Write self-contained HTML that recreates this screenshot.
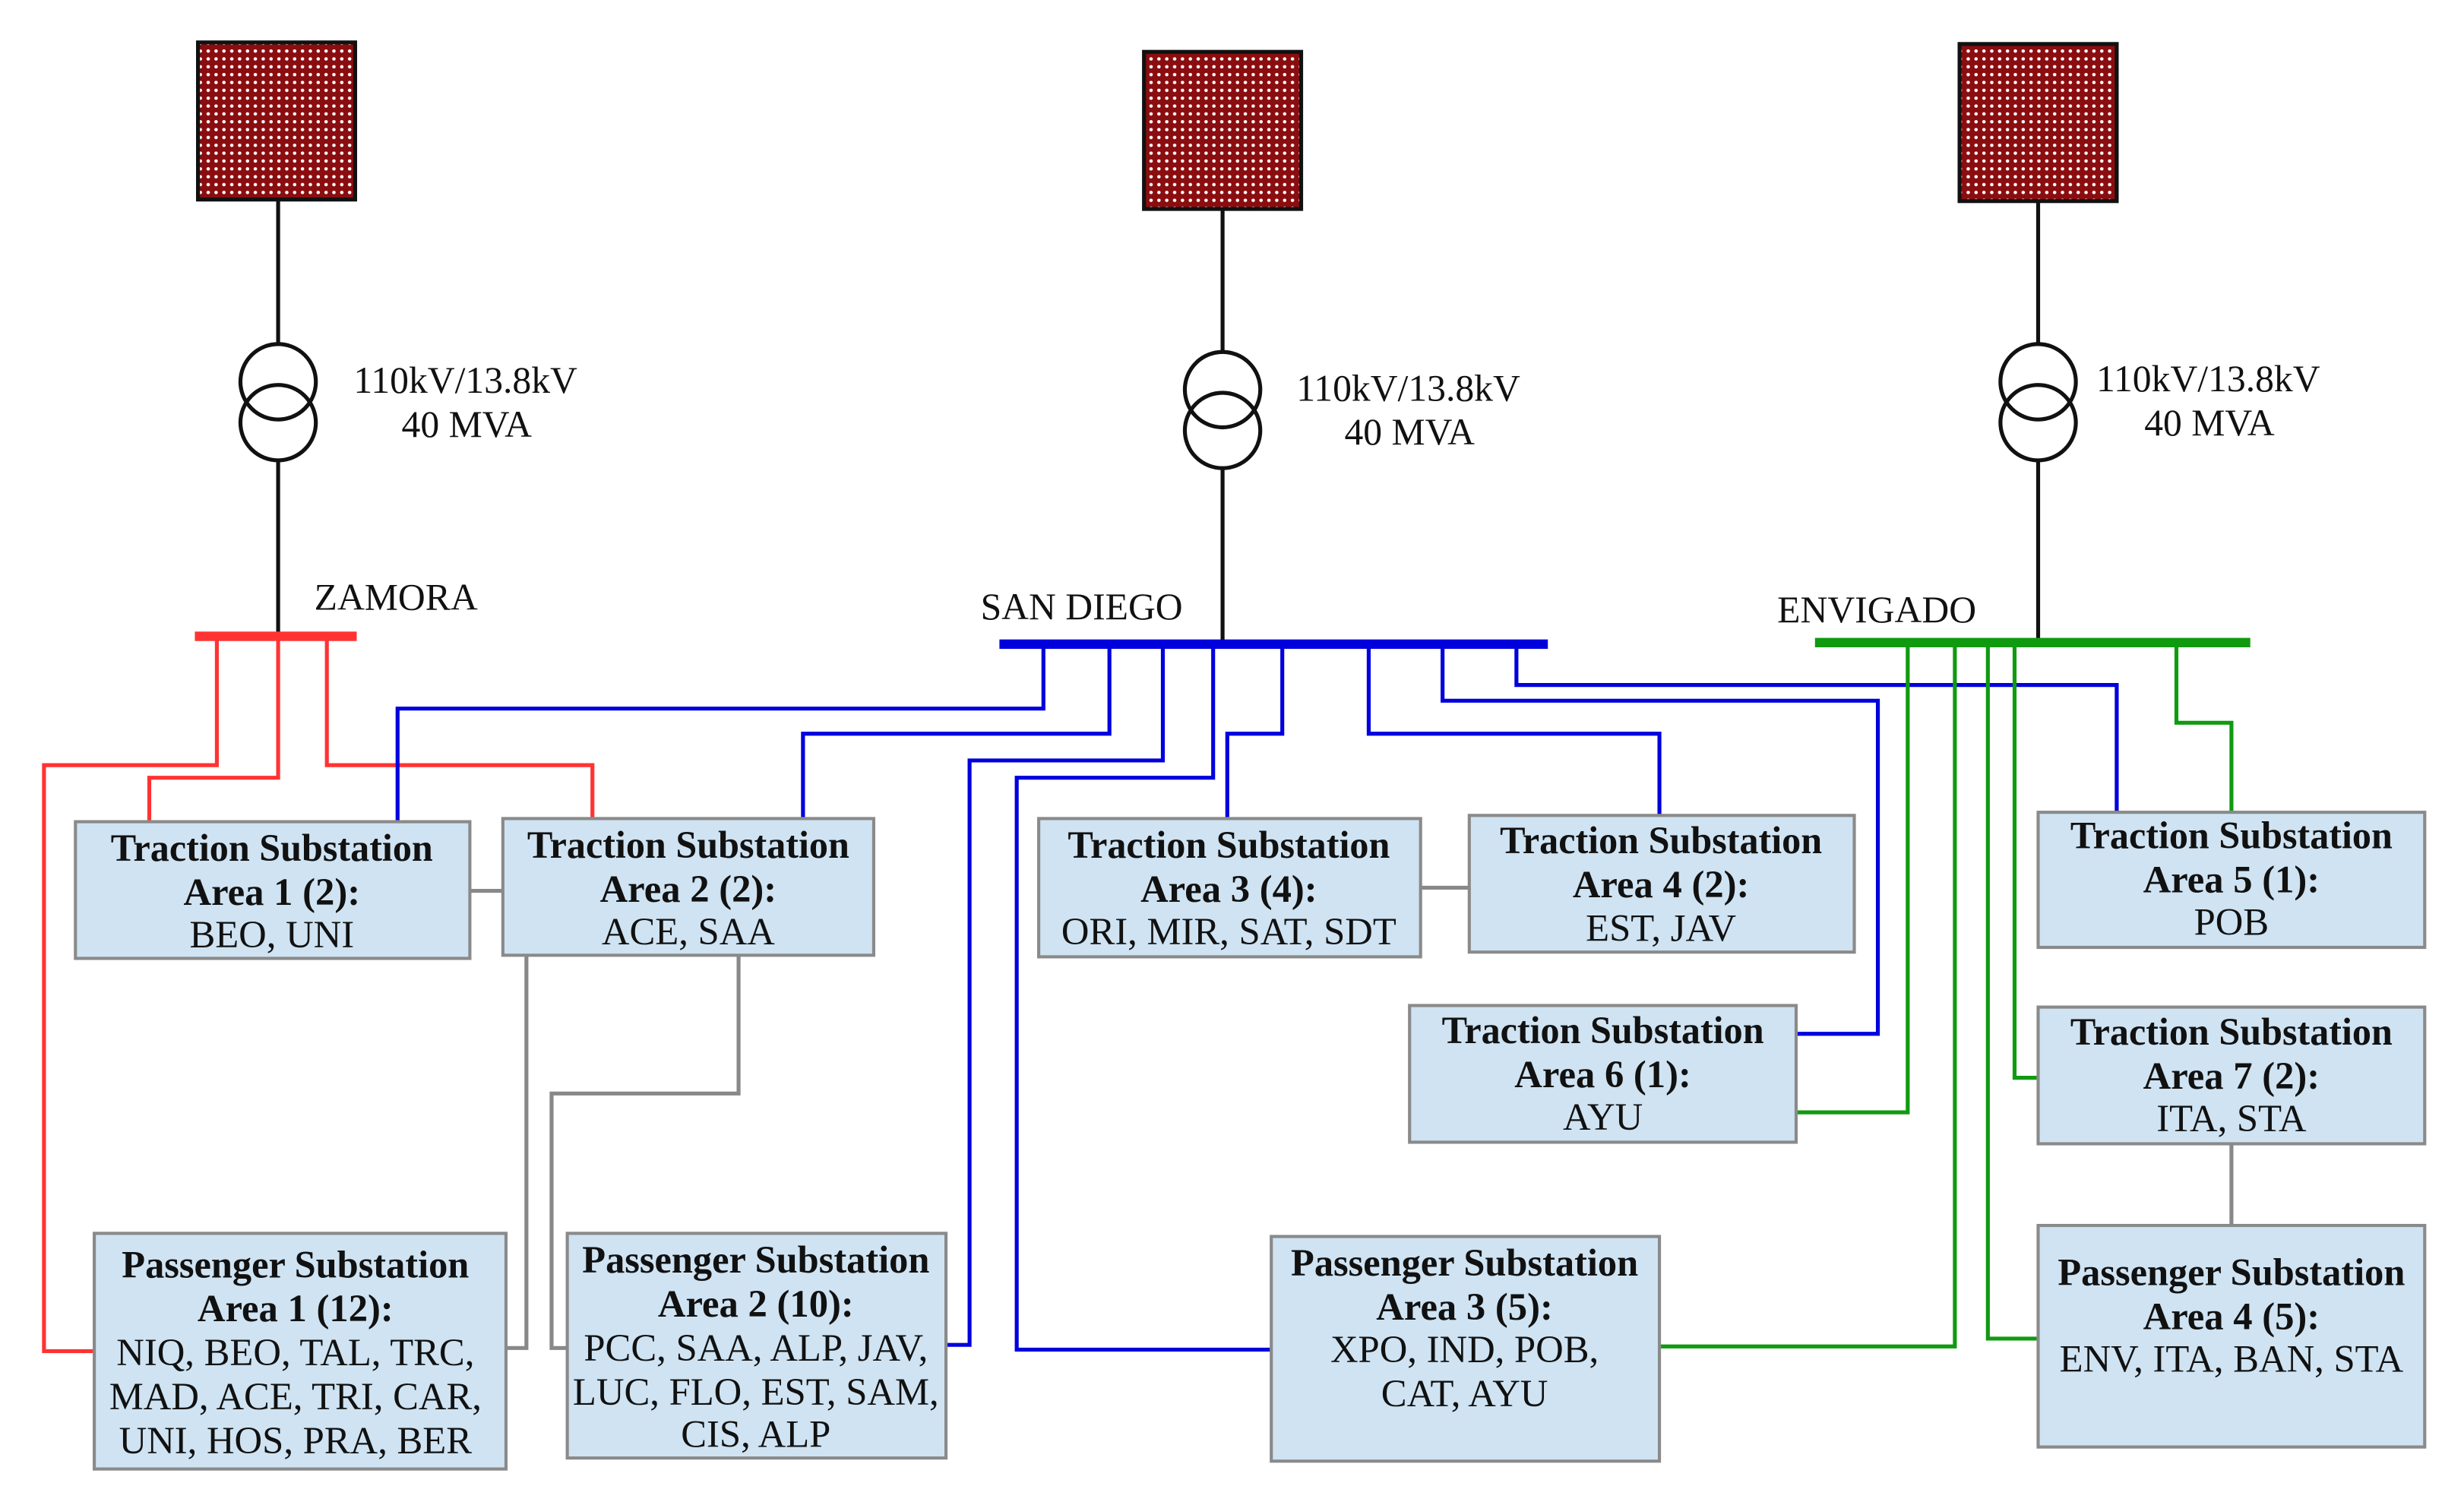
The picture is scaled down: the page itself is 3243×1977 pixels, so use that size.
<!DOCTYPE html>
<html><head><meta charset="utf-8"><style>
html,body{margin:0;padding:0;background:#fff;}
svg{display:block;}
text{font-family:"Liberation Serif",serif;fill:#111;}
.b{font-weight:bold;}
</style></head><body>
<svg width="3243" height="1977" viewBox="0 0 1568 956" preserveAspectRatio="none" xmlns="http://www.w3.org/2000/svg">
<defs>
<pattern id="dots" width="5" height="5" patternUnits="userSpaceOnUse">
<rect width="5" height="5" fill="#8a0d10"/>
<circle cx="2.5" cy="2.5" r="1.1" fill="#fff"/>
</pattern>
</defs>
<g stroke="#111" stroke-width="2.5" fill="none">
<rect x="126" y="27" width="100" height="100" fill="url(#dots)"/>
<rect x="728" y="33" width="100" height="100" fill="url(#dots)"/>
<rect x="1247" y="28" width="100" height="100" fill="url(#dots)"/>
<line x1="177" y1="127" x2="177" y2="219"/><circle cx="177" cy="243" r="24"/><circle cx="177" cy="269" r="24"/><line x1="177" y1="293" x2="177" y2="405"/>
<line x1="778" y1="133" x2="778" y2="224"/><circle cx="778" cy="248" r="24"/><circle cx="778" cy="274" r="24"/><line x1="778" y1="298" x2="778" y2="410"/>
<line x1="1297" y1="128" x2="1297" y2="219"/><circle cx="1297" cy="243" r="24"/><circle cx="1297" cy="269" r="24"/><line x1="1297" y1="293" x2="1297" y2="409"/>
</g>
<text x="225" y="250" font-size="24">110kV/13.8kV</text>
<text x="297" y="278" font-size="24" text-anchor="middle">40 MVA</text>
<text x="825" y="255" font-size="24">110kV/13.8kV</text>
<text x="897" y="283" font-size="24" text-anchor="middle">40 MVA</text>
<text x="1334" y="249" font-size="24">110kV/13.8kV</text>
<text x="1406" y="277" font-size="24" text-anchor="middle">40 MVA</text>
<text x="200" y="388" font-size="24">ZAMORA</text>
<text x="624" y="394" font-size="24">SAN DIEGO</text>
<text x="1131" y="396" font-size="24">ENVIGADO</text>

<g fill="none" stroke-width="2.5">
<g stroke="#ff3333">
<path d="M138 405V487H28V860H60"/>
<path d="M177 405V495H95V523"/>
<path d="M208 405V487H377V521"/>
</g>
<g stroke="#0000dd">
<path d="M664 410V451H253V523"/>
<path d="M706 410V467H511V521"/>
<path d="M740 410V484H617V856H602"/>
<path d="M772 410V495H647V859H810"/>
<path d="M816 410V467H781V521"/>
<path d="M871 410V467H1056V519"/>
<path d="M918 410V446H1195V658H1143"/>
<path d="M965 410V436H1347V517"/>
</g>
<g stroke="#109a10">
<path d="M1214 409V708H1143"/>
<path d="M1244 409V857H1056"/>
<path d="M1265 409V852H1297"/>
<path d="M1282 409V686H1297"/>
<path d="M1385 409V460H1420V517"/>
</g>
<g stroke="#888">
<path d="M299 567H320"/>
<path d="M904 565H935"/>
<path d="M335 608V858H322"/>
<path d="M470 608V696H351V858H362"/>
<path d="M1420 728V780"/>
</g>
</g>
<rect x="124" y="402" width="103" height="6" fill="#ff3333"/>
<rect x="636" y="407" width="349" height="6" fill="#0000dd"/>
<rect x="1155" y="406" width="277" height="6" fill="#109a10"/>

<g fill="#cfe3f2" stroke="#8a8a8a" stroke-width="2">
<rect x="48" y="523" width="251" height="87"/>
<rect x="320" y="521" width="236" height="87"/>
<rect x="661" y="521" width="243" height="88"/>
<rect x="935" y="519" width="245" height="87"/>
<rect x="1297" y="517" width="246" height="86"/>
<rect x="897" y="640" width="246" height="87"/>
<rect x="1297" y="641" width="246" height="87"/>
<rect x="60" y="785" width="262" height="150"/>
<rect x="361" y="785" width="241" height="143"/>
<rect x="809" y="787" width="247" height="143"/>
<rect x="1297" y="780" width="246" height="141"/>
</g>
<g font-size="24.5" text-anchor="middle">
<text class="b" x="173" y="548" textLength="205" lengthAdjust="spacingAndGlyphs">Traction Substation</text>
<text class="b" x="173" y="576">Area 1 (2):</text>
<text x="173" y="603">BEO, UNI</text>
<text class="b" x="438" y="546" textLength="205" lengthAdjust="spacingAndGlyphs">Traction Substation</text>
<text class="b" x="438" y="574">Area 2 (2):</text>
<text x="438" y="601">ACE, SAA</text>
<text class="b" x="782" y="546" textLength="205" lengthAdjust="spacingAndGlyphs">Traction Substation</text>
<text class="b" x="782" y="574">Area 3 (4):</text>
<text x="782" y="601">ORI, MIR, SAT, SDT</text>
<text class="b" x="1057" y="543" textLength="205" lengthAdjust="spacingAndGlyphs">Traction Substation</text>
<text class="b" x="1057" y="571">Area 4 (2):</text>
<text x="1057" y="599">EST, JAV</text>
<text class="b" x="1420" y="540" textLength="205" lengthAdjust="spacingAndGlyphs">Traction Substation</text>
<text class="b" x="1420" y="568">Area 5 (1):</text>
<text x="1420" y="595">POB</text>
<text class="b" x="1020" y="664" textLength="205" lengthAdjust="spacingAndGlyphs">Traction Substation</text>
<text class="b" x="1020" y="692">Area 6 (1):</text>
<text x="1020" y="719">AYU</text>
<text class="b" x="1420" y="665" textLength="205" lengthAdjust="spacingAndGlyphs">Traction Substation</text>
<text class="b" x="1420" y="693">Area 7 (2):</text>
<text x="1420" y="720">ITA, STA</text>
<text class="b" x="188" y="813" textLength="221" lengthAdjust="spacingAndGlyphs">Passenger Substation</text>
<text class="b" x="188" y="841">Area 1 (12):</text>
<text x="188" y="869">NIQ, BEO, TAL, TRC,</text>
<text x="188" y="897">MAD, ACE, TRI, CAR,</text>
<text x="188" y="925">UNI, HOS, PRA, BER</text>
<text class="b" x="481" y="810" textLength="221" lengthAdjust="spacingAndGlyphs">Passenger Substation</text>
<text class="b" x="481" y="838">Area 2 (10):</text>
<text x="481" y="866">PCC, SAA, ALP, JAV,</text>
<text x="481" y="894">LUC, FLO, EST, SAM,</text>
<text x="481" y="921">CIS, ALP</text>
<text class="b" x="932" y="812" textLength="221" lengthAdjust="spacingAndGlyphs">Passenger Substation</text>
<text class="b" x="932" y="840">Area 3 (5):</text>
<text x="932" y="867">XPO, IND, POB,</text>
<text x="932" y="895">CAT, AYU</text>
<text class="b" x="1420" y="818" textLength="221" lengthAdjust="spacingAndGlyphs">Passenger Substation</text>
<text class="b" x="1420" y="846">Area 4 (5):</text>
<text x="1420" y="873">ENV, ITA, BAN, STA</text>
</g>
</svg>
</body></html>
